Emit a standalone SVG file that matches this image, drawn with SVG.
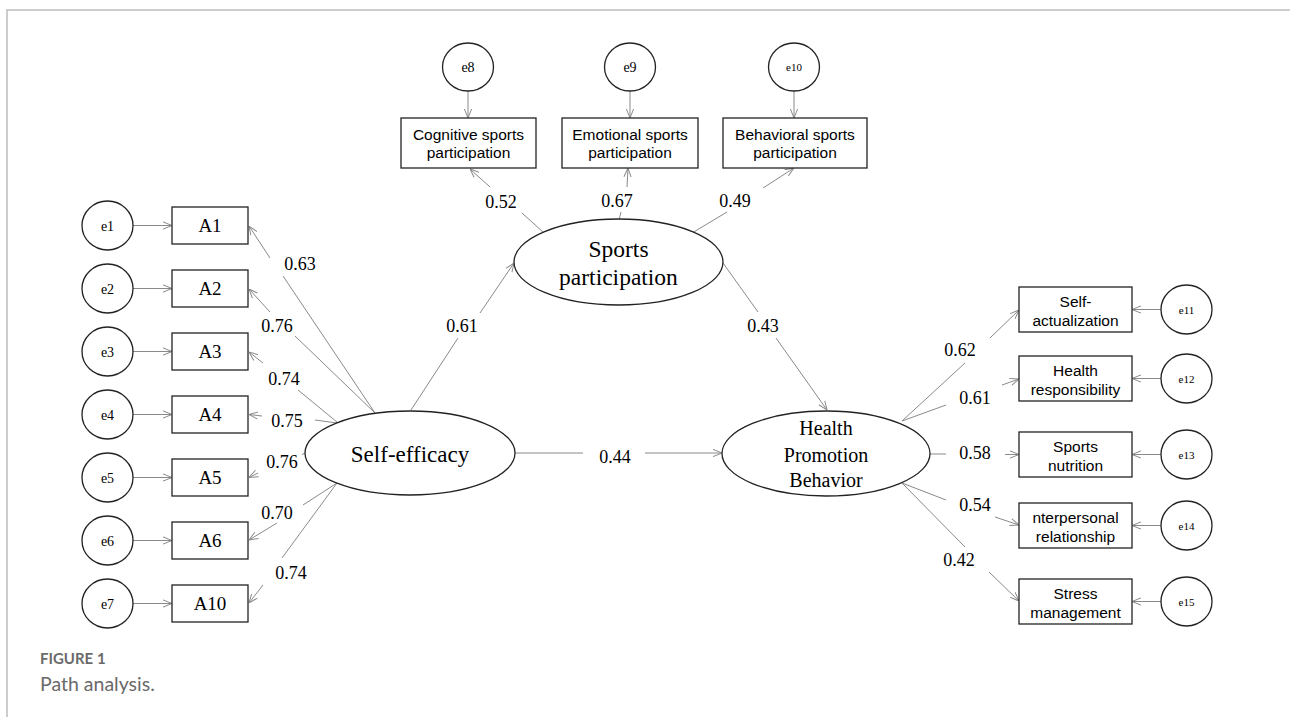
<svg xmlns="http://www.w3.org/2000/svg" width="1290" height="717" viewBox="0 0 1290 717">
<style>
.shape{fill:#fff;stroke:#222;stroke-width:1.3}
.conn{fill:none;stroke:#8a8a8a;stroke-width:1}
.serif{font-family:"Liberation Serif","Times New Roman",serif;fill:#000;text-anchor:middle}
.sans{font-family:"Liberation Sans",Arial,sans-serif;fill:#000;text-anchor:middle;font-size:15.5px}
.lab{font-size:18px}
.e{font-size:14px}
.es{font-size:11px}
.obs{font-size:19px}
.cap{font-family:Lato,"Open Sans",sans-serif;fill:#6a6a6a}
</style>
<defs>
<marker id="arr" viewBox="0 0 10 10" refX="10" refY="5" markerWidth="9" markerHeight="9" markerUnits="userSpaceOnUse" orient="auto">
<path d="M0,1 L10,5 L0,9" fill="none" stroke="#8a8a8a" stroke-width="1.1"/>
</marker>
</defs>
<rect width="1290" height="717" fill="#fff"/>
<path d="M7,717 L7,10 L1290,10" fill="none" stroke="#bdbdbd" stroke-width="1.5"/>

<g id="connectors">
<path class="conn" marker-end="url(#arr)" d="M133,225.5 L172,225.5"/>
<path class="conn" marker-end="url(#arr)" d="M133,288.5 L172,288.5"/>
<path class="conn" marker-end="url(#arr)" d="M133,351.5 L172,351.5"/>
<path class="conn" marker-end="url(#arr)" d="M133,414.5 L172,414.5"/>
<path class="conn" marker-end="url(#arr)" d="M133,477.5 L172,477.5"/>
<path class="conn" marker-end="url(#arr)" d="M133,540.5 L172,540.5"/>
<path class="conn" marker-end="url(#arr)" d="M133,603.5 L172,603.5"/>
<path class="conn" marker-end="url(#arr)" d="M468,91 L468,118"/>
<path class="conn" marker-end="url(#arr)" d="M630,91 L630,118"/>
<path class="conn" marker-end="url(#arr)" d="M794,91 L794,118"/>
<path class="conn" marker-end="url(#arr)" d="M1161,309.5 L1132,309.5"/>
<path class="conn" marker-end="url(#arr)" d="M1161,378.5 L1132,378.5"/>
<path class="conn" marker-end="url(#arr)" d="M1161,454.5 L1132,454.5"/>
<path class="conn" marker-end="url(#arr)" d="M1161,525.5 L1132,525.5"/>
<path class="conn" marker-end="url(#arr)" d="M1161,601.5 L1132,601.5"/>

<path class="conn" marker-end="url(#arr)" d="M375,413 L283,276 M270,258 L249,226"/>
<path class="conn" marker-end="url(#arr)" d="M375,413 L295,336 M270,312 L249,289"/>
<path class="conn" marker-end="url(#arr)" d="M337,422 L298,390 M263,363 L249,352"/>
<path class="conn" marker-end="url(#arr)" d="M337,423 L315,420 M262,416 L249,414.5"/>
<path class="conn" marker-end="url(#arr)" d="M305,453 L302,454.5 M258,473 L249,477.5"/>
<path class="conn" marker-end="url(#arr)" d="M337,483 L303,505 M277,523 L249,540"/>
<path class="conn" marker-end="url(#arr)" d="M337,483 L282,558 M263,585 L249,603"/>

<path class="conn" marker-end="url(#arr)" d="M544,233 L522,213 M490,187 L470,169"/>
<path class="conn" marker-end="url(#arr)" d="M619,220 L621,212 M627,187 L628,168"/>
<path class="conn" marker-end="url(#arr)" d="M692,233 L727,212 M763,188 L794,168"/>
<path class="conn" marker-end="url(#arr)" d="M411,410 L458,338 M480,313 L514,263"/>
<path class="conn" marker-end="url(#arr)" d="M723,263 L758,312 M776,338 L827,410"/>
<path class="conn" marker-end="url(#arr)" d="M515,453 L583,453 M645,453 L722,453"/>

<path class="conn" marker-end="url(#arr)" d="M902,421 L965,363 M990,338 L1019,310"/>
<path class="conn" marker-end="url(#arr)" d="M902,421 L946,405 M1002,385 L1019,379"/>
<path class="conn" marker-end="url(#arr)" d="M930,454 L946,454 M1005,454.5 L1019,454.5"/>
<path class="conn" marker-end="url(#arr)" d="M902,483 L946,500 M995,517 L1019,525"/>
<path class="conn" marker-end="url(#arr)" d="M902,483 L965,547 M989,572 L1019,601"/>

<text class="serif lab" x="300" y="270">0.63</text>
<text class="serif lab" x="277" y="332">0.76</text>
<text class="serif lab" x="284" y="385">0.74</text>
<text class="serif lab" x="287" y="427">0.75</text>
<text class="serif lab" x="282" y="468">0.76</text>
<text class="serif lab" x="277" y="519">0.70</text>
<text class="serif lab" x="291" y="579">0.74</text>
<text class="serif lab" x="501" y="208">0.52</text>
<text class="serif lab" x="617" y="207">0.67</text>
<text class="serif lab" x="735" y="207">0.49</text>
<text class="serif lab" x="462" y="332">0.61</text>
<text class="serif lab" x="763" y="332">0.43</text>
<text class="serif lab" x="615" y="463">0.44</text>
<text class="serif lab" x="960" y="356">0.62</text>
<text class="serif lab" x="975" y="404">0.61</text>
<text class="serif lab" x="975" y="459">0.58</text>
<text class="serif lab" x="975" y="511">0.54</text>
<text class="serif lab" x="959" y="566">0.42</text>
</g>

<g id="e1"><ellipse class="shape" cx="107.5" cy="225.5" rx="25.5" ry="24.5"/><text class="serif e" x="107.5" y="230.5">e1</text></g>
<g id="e2"><ellipse class="shape" cx="107.5" cy="288.5" rx="25.5" ry="24.5"/><text class="serif e" x="107.5" y="293.5">e2</text></g>
<g id="e3"><ellipse class="shape" cx="107.5" cy="351.5" rx="25.5" ry="24.5"/><text class="serif e" x="107.5" y="356.5">e3</text></g>
<g id="e4"><ellipse class="shape" cx="107.5" cy="414.5" rx="25.5" ry="24.5"/><text class="serif e" x="107.5" y="419.5">e4</text></g>
<g id="e5"><ellipse class="shape" cx="107.5" cy="477.5" rx="25.5" ry="24.5"/><text class="serif e" x="107.5" y="482.5">e5</text></g>
<g id="e6"><ellipse class="shape" cx="107.5" cy="540.5" rx="25.5" ry="24.5"/><text class="serif e" x="107.5" y="545.5">e6</text></g>
<g id="e7"><ellipse class="shape" cx="107.5" cy="603.5" rx="25.5" ry="24.5"/><text class="serif e" x="107.5" y="608.5">e7</text></g>

<g id="A1"><rect class="shape" x="172" y="207" width="76" height="37"/><text class="serif obs" x="210" y="232">A1</text></g>
<g id="A2"><rect class="shape" x="172" y="270" width="76" height="37"/><text class="serif obs" x="210" y="295">A2</text></g>
<g id="A3"><rect class="shape" x="172" y="333" width="76" height="37"/><text class="serif obs" x="210" y="358">A3</text></g>
<g id="A4"><rect class="shape" x="172" y="396" width="76" height="37"/><text class="serif obs" x="210" y="421">A4</text></g>
<g id="A5"><rect class="shape" x="172" y="459" width="76" height="37"/><text class="serif obs" x="210" y="484">A5</text></g>
<g id="A6"><rect class="shape" x="172" y="522" width="76" height="37"/><text class="serif obs" x="210" y="547">A6</text></g>
<g id="A10"><rect class="shape" x="172" y="585" width="76" height="37"/><text class="serif obs" x="210" y="610">A10</text></g>

<g id="self-efficacy"><ellipse class="shape" cx="410" cy="453" rx="105" ry="42"/><text class="serif" style="font-size:23px" x="410" y="462">Self-efficacy</text></g>

<g id="sports-participation"><ellipse class="shape" cx="618.5" cy="262" rx="104.5" ry="43"/><text class="serif" style="font-size:23.5px" x="618.5" y="257">Sports</text><text class="serif" style="font-size:23.5px" x="618.5" y="285">participation</text></g>

<g id="health-promotion"><ellipse class="shape" cx="826" cy="453.5" rx="104" ry="42.5"/><text class="serif" style="font-size:20px" x="826" y="435">Health</text><text class="serif" style="font-size:20px" x="826" y="461.5">Promotion</text><text class="serif" style="font-size:20px" x="826" y="487">Behavior</text></g>

<g id="e8"><ellipse class="shape" cx="468" cy="67" rx="25.5" ry="24"/><text class="serif e" x="468" y="72">e8</text></g>
<g id="e9"><ellipse class="shape" cx="630" cy="67" rx="25.5" ry="24"/><text class="serif e" x="630" y="72">e9</text></g>
<g id="e10"><ellipse class="shape" cx="794" cy="67" rx="25.5" ry="24"/><text class="serif es" x="794" y="71">e10</text></g>

<g id="cognitive"><rect class="shape" x="401" y="118" width="135" height="50"/><text class="sans" x="468.5" y="139.5">Cognitive sports</text><text class="sans" x="468.5" y="158">participation</text></g>
<g id="emotional"><rect class="shape" x="562" y="118" width="136" height="50"/><text class="sans" x="630" y="139.5">Emotional sports</text><text class="sans" x="630" y="158">participation</text></g>
<g id="behavioral"><rect class="shape" x="723" y="118" width="144" height="50"/><text class="sans" x="795" y="139.5">Behavioral sports</text><text class="sans" x="795" y="158">participation</text></g>

<g id="self-actualization"><rect class="shape" x="1019" y="287" width="113" height="45"/><text class="sans" x="1075.5" y="307">Self-</text><text class="sans" x="1075.5" y="325.5">actualization</text></g>
<g id="health-responsibility"><rect class="shape" x="1019" y="356" width="113" height="45"/><text class="sans" x="1075.5" y="376">Health</text><text class="sans" x="1075.5" y="394.5">responsibility</text></g>
<g id="sports-nutrition"><rect class="shape" x="1019" y="432" width="113" height="45"/><text class="sans" x="1075.5" y="452">Sports</text><text class="sans" x="1075.5" y="470.5">nutrition</text></g>
<g id="interpersonal"><rect class="shape" x="1019" y="503" width="113" height="45"/><text class="sans" x="1075.5" y="523">nterpersonal</text><text class="sans" x="1075.5" y="541.5">relationship</text></g>
<g id="stress"><rect class="shape" x="1019" y="579" width="113" height="45"/><text class="sans" x="1075.5" y="599">Stress</text><text class="sans" x="1075.5" y="617.5">management</text></g>

<g id="e11"><ellipse class="shape" cx="1186.5" cy="309.5" rx="25.5" ry="24.5"/><text class="serif es" x="1186.5" y="313.5">e11</text></g>
<g id="e12"><ellipse class="shape" cx="1186.5" cy="378.5" rx="25.5" ry="24.5"/><text class="serif es" x="1186.5" y="382.5">e12</text></g>
<g id="e13"><ellipse class="shape" cx="1186.5" cy="454.5" rx="25.5" ry="24.5"/><text class="serif es" x="1186.5" y="458.5">e13</text></g>
<g id="e14"><ellipse class="shape" cx="1186.5" cy="525.5" rx="25.5" ry="24.5"/><text class="serif es" x="1186.5" y="529.5">e14</text></g>
<g id="e15"><ellipse class="shape" cx="1186.5" cy="601.5" rx="25.5" ry="24.5"/><text class="serif es" x="1186.5" y="605.5">e15</text></g>

<g id="caption">
<text class="cap" x="40" y="664" style="font-size:15px;font-weight:bold">FIGURE 1</text>
<text class="cap" x="40" y="691" style="font-size:19.5px">Path analysis.</text>
</g>
</svg>
